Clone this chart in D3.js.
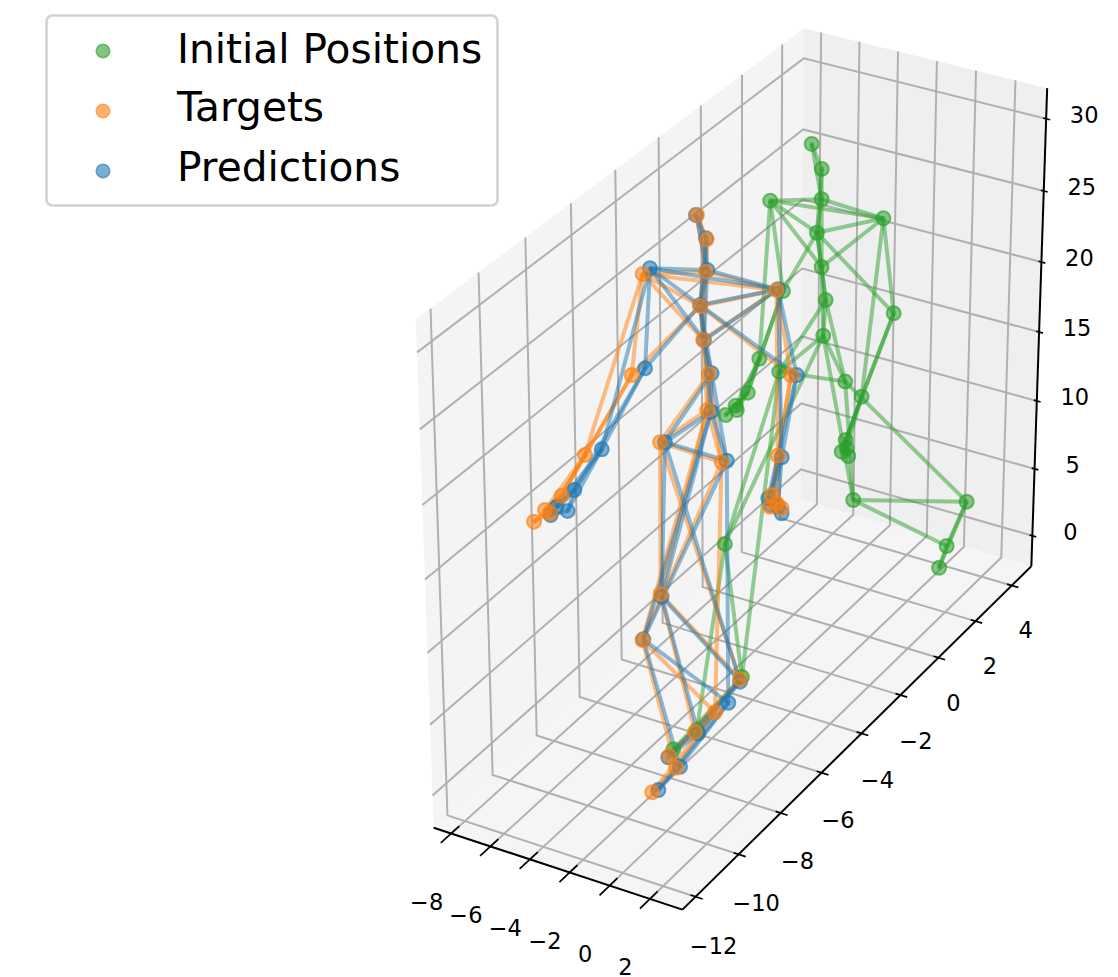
<!DOCTYPE html>
<html>
<head>
<meta charset="utf-8">
<script src="https://cdnjs.cloudflare.com/ajax/libs/d3/7.8.5/d3.min.js"></script>
<style>body{margin:0;background:#fff}svg{display:block;font-family:"DejaVu Sans"}</style>
</head>
<body>
<div id="chart-area"></div>
<script>
var xTicks = [-8,-6,-4,-2,0,2];
var yTicks = [-12,-10,-8,-6,-4,-2,0,2,4];
var zTicks = [0,5,10,15,20,25,30];
var xRange = [-8.9,3.6], yRange = [-12.6,5.1], zRange = [-2.3,32.1];
var labels = ["Initial Positions","Targets","Predictions"];
var colors = ["#2ca02c","#ff7f0e","#1f77b4"];

// joints, one entry per body point. depth (y) cannot be read from one view, so it is a guess
var initialX = [-5.80,-5.27,-5.26,-7.94,-2.07,-5.49,-5.23,-5.00,-5.11,-6.91,-3.93,-7.25,-8.49,-9.11,-9.76,-9.70,-10.30,-1.46,-3.06,-3.87,-3.81,-4.07,-3.72,-3.43,2.51,1.53,1.16,-6.63,-1.51,-1.70,-1.82];
var initialY = [2.5,2.5,2.5,2.5,2.5,2.5,2.5,2.5,2.5,2,2.5,2.5,2.5,2.5,2.5,2.5,2.5,2.5,2.5,2.5,2.5,2.5,2.5,2.5,2.5,2.5,2.5,-1,-5,-7,-8];
var initialZ = [27.85,26.30,24.19,23.15,23.99,21.76,19.43,17.16,14.56,11.88,11.69,16.98,11.62,8.90,7.69,7.39,6.79,17.52,10.93,7.45,6.89,6.51,6.33,3.19,5.45,1.78,0.01,3.17,0.98,-0.14,-0.16];

var targetX = [-6.43,-5.94,-5.46,-8.68,-1.89,-5.75,-5.06,-4.24,-4.33,-6.21,-3.07,-8.75,-10.69,-11.96,-12.60,-12.87,-13.47,-0.63,-0.76,-1.06,-0.80,-1.14,-0.55,-5.01,1.37,-0.05,-0.71,-4.05,2.61,0.91,0.16];
var targetY = [-2.5,-2.5,-3,-3,-3,-3,-3.5,-4,-4,-4.5,-4.5,-3.5,-4,-4,-4,-4,-4,-3.5,-4,-4,-4,-4,-4,-6.5,-9,-9.5,-10,-6.5,-9,-9.5,-10];
var targetZ = [28.28,26.80,25.35,24.02,25.41,22.90,21.41,19.98,17.46,15.10,14.94,17.59,11.82,8.40,6.87,7.00,5.91,20.66,15.68,12.82,12.34,11.96,12.09,4.21,5.30,1.47,0.15,7.89,8.14,4.44,3.11];

var predX = [-6.48,-5.97,-5.38,-8.30,-1.82,-5.75,-5.02,-4.10,-4.14,-5.96,-2.81,-8.05,-9.80,-11.28,-11.66,-12.24,-12.57,-0.35,-0.56,-1.23,-0.74,-1.09,-0.55,-4.96,2.03,0.15,-0.40,-4.00,2.61,1.07,0.11];
var predY = [-2.5,-2.5,-3,-3,-3,-3,-3.5,-4,-4,-4.5,-4.5,-3.5,-4,-4,-4,-4,-4,-3.5,-4,-4,-4,-4,-4,-6.5,-9,-9.5,-10,-6.5,-9,-9.5,-10];
var predZ = [28.26,26.86,25.49,24.55,25.48,22.96,21.42,20.08,17.42,15.20,15.15,18.32,12.57,9.08,7.42,7.49,6.76,20.79,15.65,12.52,12.13,12.10,11.74,4.28,6.26,1.63,0.45,7.72,7.98,4.40,3.00];

// which joints are tied together
var bones = [[0,1],[0,2],[1,2],[1,5],[2,5],[2,6],[5,6],[5,7],[6,7],[6,8],[7,8],[2,3],[2,4],[3,4],[3,5],[4,5],[3,6],[4,6],
    [3,11],[5,11],[3,12],[11,12],[11,13],[12,13],[12,14],[12,15],[13,14],[13,15],[13,16],[14,16],
    [4,17],[4,18],[5,17],[17,18],[17,19],[18,19],[18,20],[18,21],[19,20],[19,21],[19,22],[20,22],
    [7,9],[7,10],[8,9],[8,10],[9,10],[8,23],[10,23],[10,24],[23,24],[23,25],[24,25],[24,26],[25,26],
    [8,27],[9,27],[9,28],[27,28],[27,29],[28,29],[28,30],[29,30]];

var svg = d3.select("#chart-area").append("svg")
    .attr("width",1118)
    .attr("height",977);

var sx = d3.scaleLinear().domain(xRange).range([0,1]);
var sy = d3.scaleLinear().domain(yRange).range([0,1]);
var sz = d3.scaleLinear().domain(zRange).range([0,1]);

// box corners as they sit on the page, used to fit the perspective camera
var corners = [[0,0,0,433,827],[1,0,0,683,910],[1,1,0,1031,566],[0,1,0,801,500],[0,0,1,416,320],[0,1,1,804,28],[1,1,1,1047,88]];

function solve(A,b){
    var n = b.length, M = A.map((r,i) => r.concat(b[i]));
    for(var i=0;i<n;i++){
        var p = i;
        for(var k=i+1;k<n;k++) if(Math.abs(M[k][i])>Math.abs(M[p][i])) p = k;
        var t = M[i]; M[i] = M[p]; M[p] = t;
        for(var k=0;k<n;k++){
            if(k==i) continue;
            var f = M[k][i]/M[i][i];
            for(var j=i;j<=n;j++) M[k][j] -= f*M[i][j];
        }
    }
    return M.map((r,i) => r[n]/r[i]);
}

function fitCamera(){
    var rows = [], rhs = [];
    corners.forEach((c) => {
        var a = c[0], b = c[1], d = c[2], u = c[3], v = c[4];
        rows.push([a,b,d,1,0,0,0,0,-u*a,-u*b,-u*d]); rhs.push(u);
        rows.push([0,0,0,0,a,b,d,1,-v*a,-v*b,-v*d]); rhs.push(v);
    });
    var N = d3.range(11).map((i) => d3.range(11).map((j) => d3.sum(rows,(r) => r[i]*r[j])));
    var B = d3.range(11).map((i) => d3.sum(rows,(r,k) => r[i]*rhs[k]));
    return solve(N,B);
}
var P = fitCamera();

function proj(x,y,z){
    var a = sx(x), b = sy(y), c = sz(z), w = P[8]*a+P[9]*b+P[10]*c+1;
    return [(P[0]*a+P[1]*b+P[2]*c+P[3])/w,(P[4]*a+P[5]*b+P[6]*c+P[7])/w];
}

var x0 = xRange[0], x1 = xRange[1], y0 = yRange[0], y1 = yRange[1], z0 = zRange[0], z1 = zRange[1];
var poly = (pts) => pts.map((p) => proj(p[0],p[1],p[2]).join(",")).join(" ");

function pane(pts,col){
    svg.append("polygon").attr("points",poly(pts)).attr("fill",col);
}
pane([[x0,y0,z0],[x0,y1,z0],[x0,y1,z1],[x0,y0,z1]],"#f4f4f4");
pane([[x0,y1,z0],[x1,y1,z0],[x1,y1,z1],[x0,y1,z1]],"#efefef");
pane([[x0,y0,z0],[x1,y0,z0],[x1,y1,z0],[x0,y1,z0]],"#f5f5f5");

function line3(pts,col,w){
    svg.append("polyline")
        .attr("points",poly(pts))
        .attr("fill","none")
        .attr("stroke",col)
        .attr("stroke-width",w);
}

// grid
xTicks.forEach((t) => line3([[t,y0,z0],[t,y1,z0],[t,y1,z1]],"#b0b0b0",2));
yTicks.forEach((t) => line3([[x0,t,z1],[x0,t,z0],[x1,t,z0]],"#b0b0b0",2));
zTicks.forEach((t) => line3([[x0,y0,t],[x0,y1,t],[x1,y1,t]],"#b0b0b0",2));

// axes
line3([[x0,y0,z0],[x1,y0,z0]],"#000",2);
line3([[x1,y0,z0],[x1,y1,z0]],"#000",2);
line3([[x1,y1,z0],[x1,y1,z1]],"#000",2);

var fmt = d3.format("d");
function tickText(p,dx,dy,s){
    svg.append("text")
        .attr("x",p[0]+dx)
        .attr("y",p[1]+dy)
        .attr("text-anchor","middle")
        .attr("dominant-baseline","central")
        .attr("font-size",22.5)
        .text(fmt(s));
}
var yLabelDx = d3.scaleLinear().domain([-12,4]).range([18,14]);
var yLabelDy = d3.scaleLinear().domain([-12,4]).range([49.5,44.5]);

xTicks.forEach((t) => {
    line3([[t,y0-0.45,z0],[t,y0+0.35,z0]],"#000",1.7);
    tickText(proj(t,y0,z0),-24.5,68.5,t);
});
yTicks.forEach((t) => {
    line3([[x1+0.35,t,z0],[x1-0.25,t,z0]],"#000",1.7);
    tickText(proj(x1,t,z0),yLabelDx(t),yLabelDy(t),t);
});
zTicks.forEach((t) => {
    line3([[x1+0.2,y1,t],[x1-0.15,y1,t]],"#000",1.7);
    tickText(proj(x1,y1,t),38,-4,t);
});

// skeletons
var series = [[initialX,initialY,initialZ],[targetX,targetY,targetZ],[predX,predY,predZ]]
    .map((s) => s[0].map((d,i) => proj(s[0][i],s[1][i],s[2][i])));

series.forEach((pts,i) => {
    svg.append("g").selectAll("line")
        .data(bones)
        .enter()
        .append("line")
            .attr("x1",(d) => pts[d[0]][0])
            .attr("y1",(d) => pts[d[0]][1])
            .attr("x2",(d) => pts[d[1]][0])
            .attr("y2",(d) => pts[d[1]][1])
            .attr("stroke",colors[i])
            .attr("stroke-width",4)
            .attr("stroke-opacity",0.5);
});

[0,2,1].forEach((i) => {
    var g = svg.append("g");
    g.selectAll("circle.outer")
        .data(series[i])
        .enter()
        .append("circle")
            .attr("class","outer")
            .attr("cx",(d) => d[0])
            .attr("cy",(d) => d[1])
            .attr("r",7)
            .attr("fill",colors[i])
            .attr("fill-opacity",0.55)
            .attr("stroke",colors[i])
            .attr("stroke-opacity",0.65)
            .attr("stroke-width",2);
    g.selectAll("circle.inner")
        .data(series[i])
        .enter()
        .append("circle")
            .attr("class","inner")
            .attr("cx",(d) => d[0])
            .attr("cy",(d) => d[1])
            .attr("r",2.2)
            .attr("fill",colors[i])
            .attr("fill-opacity",0.5);
});

// legend
svg.append("rect")
    .attr("x",46.5)
    .attr("y",15.5)
    .attr("width",451)
    .attr("height",190)
    .attr("rx",6)
    .attr("fill","#fff")
    .attr("stroke","#d2d2d2")
    .attr("stroke-width",2.5);

labels.forEach((l,i) => {
    svg.append("circle")
        .attr("cx",103)
        .attr("cy",51+60*i)
        .attr("r",6.8)
        .attr("fill",colors[i])
        .attr("fill-opacity",0.6)
        .attr("stroke",colors[i])
        .attr("stroke-opacity",0.6)
        .attr("stroke-width",1.5);
    svg.append("text")
        .attr("x",177)
        .attr("y",[62.7,121,181][i])
        .attr("font-size",40.7)
        .text(l);
});
</script>
</body>
</html>
